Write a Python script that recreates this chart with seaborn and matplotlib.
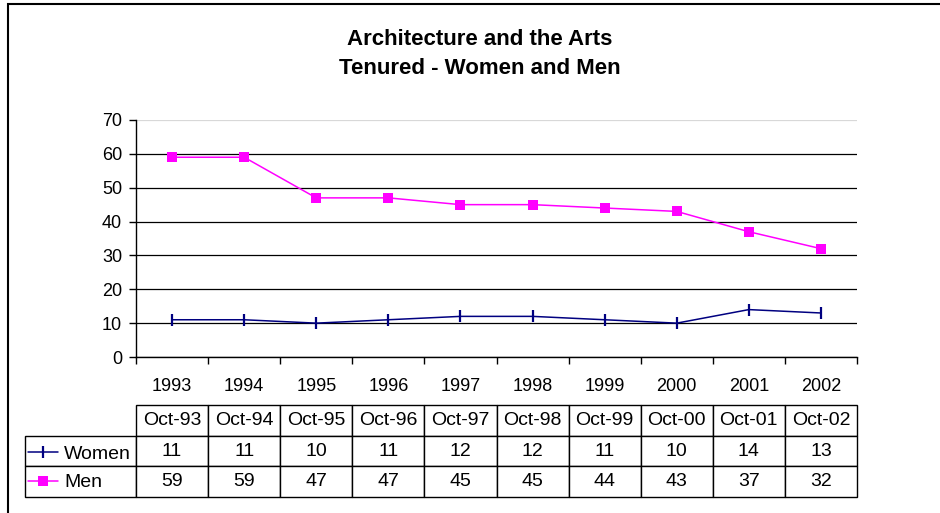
import matplotlib
matplotlib.use("Agg")
import matplotlib.pyplot as plt
import matplotlib.patches as mpatches
import numpy as np
import seaborn as sns

### Tenured faculty, Architecture and the Arts

years = ["1993", "1994", "1995", "1996", "1997", "1998", "1999", "2000", "2001", "2002"]
table_headers = ["Oct-93", "Oct-94", "Oct-95", "Oct-96", "Oct-97",
                 "Oct-98", "Oct-99", "Oct-00", "Oct-01", "Oct-02"]
women = [11, 11, 10, 11, 12, 12, 11, 10, 14, 13]
men = [59, 59, 47, 47, 45, 45, 44, 43, 37, 32]

sns.set_theme(style="white")
plt.rcParams["font.family"] = ["Liberation Sans", "DejaVu Sans"]
plt.rcParams["text.color"] = "black"
plt.rcParams["xtick.color"] = "black"
plt.rcParams["ytick.color"] = "black"

fig = plt.figure(figsize=(9.4, 5.13), dpi=100)
ax = fig.add_axes([136 / 940, 1 - 357 / 513, 721 / 940, 237 / 513])

x = np.arange(len(years))
sns.lineplot(x=x, y=women, color="#000080", marker="|", markersize=8,
             markeredgewidth=1.6, markeredgecolor="#000080", linewidth=1.1,
             label="Women", ax=ax)
sns.lineplot(x=x, y=men, color="#FF00FF", marker="s", markersize=7,
             markeredgewidth=0, linewidth=1.1, label="Men", ax=ax)

ax.set_xlim(-0.5, len(years) - 0.5)
ax.set_ylim(0, 70)
ax.set_yticks(range(0, 71, 10))

# major ticks at category borders, labels at category centers
ax.set_xticks(np.arange(-0.5, len(years), 1.0))
ax.set_xticklabels([])
ax.set_xticks(x, minor=True)
ax.set_xticklabels(years, minor=True)
ax.tick_params(axis="x", which="major", direction="out", length=5, width=1, color="black")
ax.tick_params(axis="x", which="minor", length=0, pad=15, labelsize=13, labelcolor="black")
ax.tick_params(axis="y", direction="out", length=5, width=1, color="black",
               pad=5, labelsize=13, labelcolor="black")
ax.tick_params(left=True, bottom=True)

ax.yaxis.grid(True, color="black", linewidth=0.9)
ax.get_ygridlines()[-1].set_color("#d8d8d8")
ax.set_axisbelow(True)
for side in ["top", "right"]:
    ax.spines[side].set_visible(False)
for side in ["left", "bottom"]:
    ax.spines[side].set_color("black")
    ax.spines[side].set_linewidth(1)
ax.set_xlabel("")
ax.set_ylabel("")

# data table under the chart
cell_text = [[""] + table_headers,
             [""] + [str(v) for v in women],
             [""] + [str(v) for v in men]]
col_w = [111 / 832] + [72.1 / 832] * len(years)
tbl = ax.table(cellText=cell_text, colWidths=col_w, cellLoc="center",
               bbox=[-111 / 721, -140 / 237, 832 / 721, 92 / 237])
tbl.auto_set_font_size(False)
tbl.set_fontsize(14)
for (r, c), cell in tbl.get_celld().items():
    cell.set_edgecolor("black")
    cell.set_linewidth(1)
    cell.get_text().set_color("black")
tbl[0, 0].set_visible(False)

ax.legend(loc="center left", bbox_to_anchor=(-108 / 721, -0.47), frameon=False,
          fontsize=14, handlelength=1.55, handletextpad=0.3, borderpad=0,
          borderaxespad=0, labelspacing=0.55)

fig.suptitle("Architecture and the Arts\nTenured - Women and Men",
             x=480 / 940, y=1 - 54 / 513, va="center", fontsize=16,
             fontweight="bold", linespacing=1.45)

# outer chart frame (only top and left edge visible)
fig.patches.append(mpatches.Rectangle((8 / 940, -0.5), 2, 0.5 + 1 - 4 / 513,
                                      transform=fig.transFigure, fill=False,
                                      edgecolor="black", linewidth=1.5))

fig.savefig("out.png", dpi=100)
